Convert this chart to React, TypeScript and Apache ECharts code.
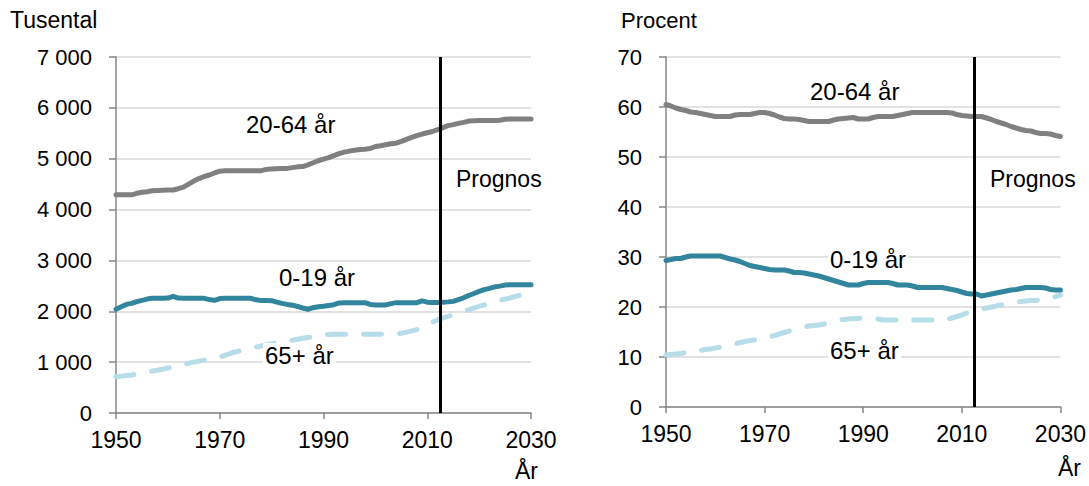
import React, { useEffect, useRef } from "react";
import * as echarts from "echarts";

const years: number[] = [];
for (let y = 1950; y <= 2030; y++) years.push(y);

// Thousands (Tusental)
const abs2064 = [
  4290, 4290, 4290, 4290, 4320, 4340, 4350, 4370, 4375, 4380,
  4385, 4385, 4410, 4440, 4500, 4560, 4610, 4650, 4680, 4720,
  4755, 4765, 4765, 4765, 4765, 4765, 4765, 4765, 4765, 4790,
  4800, 4805, 4810, 4810, 4825, 4840, 4845, 4880, 4920, 4960,
  4990, 5020, 5060, 5100, 5130, 5150, 5165, 5180, 5185, 5200,
  5240, 5255, 5275, 5295, 5305, 5340, 5380, 5420, 5455, 5485,
  5510, 5535, 5570, 5610, 5650, 5670, 5695, 5715, 5740, 5748,
  5750, 5750, 5750, 5750, 5755, 5775, 5780, 5780, 5780, 5780,
  5780,
];
const abs019 = [
  2040, 2090, 2135, 2155, 2190, 2215, 2240, 2255, 2255, 2255,
  2260, 2295, 2260, 2255, 2255, 2255, 2255, 2255, 2230, 2215,
  2250, 2255, 2255, 2255, 2255, 2255, 2255, 2225, 2210, 2210,
  2208, 2180, 2155, 2135, 2120, 2095, 2065, 2040, 2070, 2090,
  2100, 2115, 2130, 2165, 2170, 2170, 2170, 2170, 2168, 2135,
  2125, 2125, 2125, 2150, 2170, 2170, 2170, 2170, 2170, 2205,
  2180, 2175, 2175, 2180, 2185, 2195, 2230, 2265, 2310, 2350,
  2390, 2425, 2450, 2480, 2495, 2515, 2523, 2523, 2523, 2523,
  2523,
];
const abs65 = [
  714, 725, 738, 748, 765, 785, 805, 825, 840, 860,
  885, 905, 930, 955, 980, 1000, 1020, 1040, 1060, 1075,
  1100, 1135, 1170, 1200, 1225, 1250, 1275, 1295, 1320, 1345,
  1365, 1380, 1395, 1415, 1430, 1450, 1470, 1485, 1500, 1515,
  1530, 1545, 1550, 1550, 1550, 1550, 1550, 1550, 1548, 1547,
  1547, 1547, 1550, 1555, 1560, 1567, 1590, 1615, 1640, 1690,
  1740, 1785, 1830, 1870, 1900, 1930, 1960, 1995, 2030, 2065,
  2095, 2125, 2160, 2190, 2215, 2240, 2265, 2290, 2320, 2360,
  2405,
];

// Percent (Procent)
const pct2064 = [
  60.5, 60.2, 59.8, 59.5, 59.3, 59.0, 58.9, 58.7, 58.5, 58.3,
  58.1, 58.1, 58.1, 58.1, 58.4, 58.5, 58.5, 58.5, 58.7, 58.9,
  58.9, 58.7, 58.4, 58.0, 57.7, 57.6, 57.6, 57.5, 57.3, 57.1,
  57.1, 57.1, 57.1, 57.1, 57.4, 57.6, 57.7, 57.8, 57.9, 57.6,
  57.6, 57.6, 57.9, 58.1, 58.1, 58.1, 58.1, 58.3, 58.5, 58.7,
  58.9, 58.9, 58.9, 58.9, 58.9, 58.9, 58.9, 58.9, 58.8, 58.5,
  58.3, 58.2, 58.1, 58.1, 58.1, 57.8, 57.5, 57.1, 56.8, 56.5,
  56.1, 55.8, 55.5, 55.3, 55.2, 54.9, 54.7, 54.7, 54.6, 54.3,
  54.1,
];
const pct019 = [
  29.3, 29.5, 29.7, 29.7, 30.0, 30.2, 30.2, 30.2, 30.2, 30.2,
  30.2, 30.2, 29.9, 29.6, 29.4, 29.1, 28.7, 28.3, 28.1, 27.9,
  27.7, 27.5, 27.4, 27.4, 27.4, 27.2, 26.9, 26.9, 26.8, 26.6,
  26.4, 26.2, 25.9, 25.6, 25.3, 25.0, 24.7, 24.4, 24.4, 24.4,
  24.7, 24.9, 24.9, 24.9, 24.9, 24.9, 24.7, 24.4, 24.4, 24.4,
  24.2, 23.9, 23.9, 23.9, 23.9, 23.9, 23.9, 23.7, 23.5, 23.3,
  23.0, 22.7, 22.6, 22.6, 22.2, 22.4, 22.6, 22.8, 23.0, 23.2,
  23.4, 23.5, 23.7, 23.9, 23.9, 23.9, 23.9, 23.8, 23.5, 23.4,
  23.4,
];
const pct65 = [
  10.4, 10.5, 10.6, 10.7, 10.9, 11.0, 11.2, 11.3, 11.5, 11.6,
  11.8, 12.0, 12.1, 12.4, 12.6, 12.9, 13.1, 13.3, 13.4, 13.6,
  13.7, 14.0, 14.3, 14.6, 14.9, 15.2, 15.5, 15.8, 16.0, 16.2,
  16.3, 16.4, 16.6, 16.9, 17.1, 17.3, 17.5, 17.6, 17.7, 17.7,
  17.8, 17.8, 17.7, 17.6, 17.4, 17.4, 17.4, 17.4, 17.4, 17.4,
  17.4, 17.4, 17.4, 17.4, 17.4, 17.4, 17.4, 17.5, 17.8, 18.1,
  18.4, 18.8, 19.1, 19.4, 19.6, 19.8, 20.0, 20.2, 20.4, 20.6,
  20.8, 21.0, 21.1, 21.2, 21.3, 21.3, 21.4, 21.6, 21.9, 22.1,
  22.4,
];

const prognosStart = 2012.5;
const seriesNames = ["20-64 år", "0-19 år", "65+ år"];

const FONT = "'Liberation Sans', Arial, sans-serif";
const C_GRAY = "#808080";
const C_TEAL = "#31859c";
const C_LIGHT = "#b7dde8";

const pairs = (vals: number[]) => years.map((y, i) => [y, vals[i]]);

export default function App() {
  const ref = useRef<HTMLDivElement>(null);
  useEffect(() => {
    document.body.style.margin = "0";
    const chart = echarts.init(ref.current!, null, { renderer: "svg" });
    const xAxis = (gridIndex: number) => ({
      type: "value",
      gridIndex,
      min: 1950,
      max: 2030,
      interval: 20,
      axisLine: { show: true, lineStyle: { color: "#868686", width: 1.5 } },
      axisTick: { show: true, length: 6, lineStyle: { color: "#868686", width: 1.5 } },
      splitLine: { show: false },
      axisLabel: {
        color: "#000",
        fontFamily: FONT,
        fontSize: 23,
        margin: 15,
        formatter: (v: number) => String(v),
      },
    });
    const yAxis = (gridIndex: number, max: number, interval: number, fmt: (v: number) => string) => ({
      type: "value",
      gridIndex,
      min: 0,
      max,
      interval,
      axisLine: { show: true, lineStyle: { color: "#868686", width: 1.5 } },
      axisTick: { show: true, length: 7, lineStyle: { color: "#868686", width: 1.5 } },
      splitLine: { show: true, lineStyle: { color: "#d9d9d9", width: 1.5 } },
      axisLabel: { color: "#000", fontFamily: FONT, fontSize: 22, margin: 24, formatter: fmt },
    });
    const thousands = (v: number) => String(v).replace(/\B(?=(\d{3})+(?!\d))/g, " ");
    const lineSeries = (name: string, vals: number[], idx: number, color: string, dashed: boolean, z: number) => ({
      type: "line",
      name,
      xAxisIndex: idx,
      yAxisIndex: idx,
      data: pairs(vals),
      showSymbol: false,
      symbol: "none",
      z,
      lineStyle: {
        color,
        width: 5,
        type: dashed ? [18, 18] : "solid",
        cap: "round",
        join: "round",
      },
    });
    const prognosLine = (idx: number) => ({
      type: "line",
      xAxisIndex: idx,
      yAxisIndex: idx,
      data: [],
      markLine: {
        silent: true,
        symbol: "none",
        label: { show: false },
        lineStyle: { color: "#000", width: 3, type: "solid" },
        data: [{ xAxis: prognosStart }],
      },
      z: 5,
    });
    const txt = (text: string, left: number, top: number, size = 22, bg = false) => ({
      type: "text",
      left,
      top,
      z: 10,
      style: {
        text,
        fill: "#000",
        fontFamily: FONT,
        fontSize: size,
        backgroundColor: bg ? "#fff" : undefined,
        padding: bg ? [0, 2] : undefined,
      },
    });
    chart.setOption({
      animation: false,
      grid: [
        { left: 116, top: 57, width: 415, height: 356 },
        { left: 666, top: 57, width: 396, height: 350 },
      ],
      xAxis: [xAxis(0), xAxis(1)],
      yAxis: [
        yAxis(0, 7000, 1000, thousands),
        yAxis(1, 70, 10, (v: number) => String(v)),
      ],
      series: [
        lineSeries(seriesNames[2], abs65, 0, C_LIGHT, true, 2),
        lineSeries(seriesNames[1], abs019, 0, C_TEAL, false, 3),
        lineSeries(seriesNames[0], abs2064, 0, C_GRAY, false, 3),
        prognosLine(0),
        lineSeries(seriesNames[2], pct65, 1, C_LIGHT, true, 2),
        lineSeries(seriesNames[1], pct019, 1, C_TEAL, false, 3),
        lineSeries(seriesNames[0], pct2064, 1, C_GRAY, false, 3),
        prognosLine(1),
      ],
      graphic: [
        txt("Tusental", 10, 8, 23),
        txt("Procent", 621, 9, 22),
        txt("År", 515, 459, 23),
        txt("År", 1058, 456, 23),
        txt(seriesNames[0], 246, 112, 24),
        txt("Prognos", 456, 167, 23),
        txt(seriesNames[1], 277, 265, 24, true),
        txt(seriesNames[2], 263, 343, 24, true),
        txt(seriesNames[0], 810, 79, 24),
        txt("Prognos", 990, 167, 23),
        txt(seriesNames[1], 828, 247, 24, true),
        txt(seriesNames[2], 828, 338, 24, true),
      ],
    });
    return () => chart.dispose();
  }, []);
  return <div ref={ref} style={{ width: 1089, height: 486 }} />;
}
